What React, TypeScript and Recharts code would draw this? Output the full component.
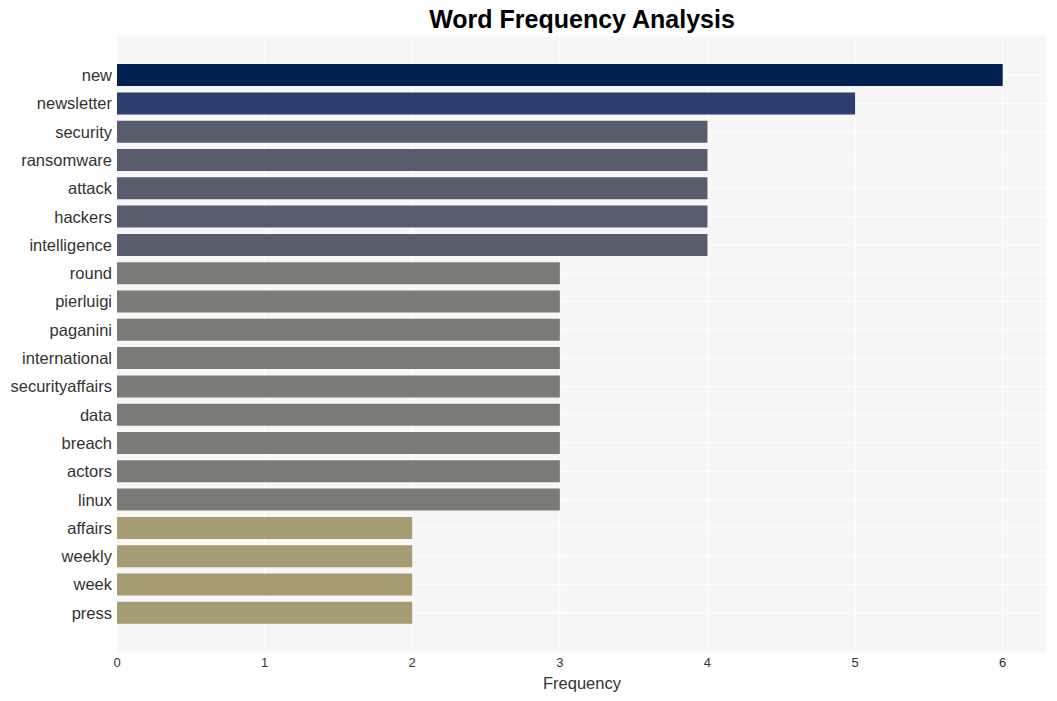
import { BarChart, Bar, XAxis, YAxis, CartesianGrid, Cell } from 'recharts';

// words and how often they appear
const words = [
  'new', 'newsletter', 'security', 'ransomware', 'attack', 'hackers', 'intelligence',
  'round', 'pierluigi', 'paganini', 'international', 'securityaffairs', 'data', 'breach',
  'actors', 'linux', 'affairs', 'weekly', 'week', 'press',
];
const counts = [6, 5, 4, 4, 4, 4, 4, 3, 3, 3, 3, 3, 3, 3, 3, 3, 2, 2, 2, 2];
const xTicks = [0, 1, 2, 3, 4, 5, 6];

// colour by frequency level
const levelColors: Record<number, string> = {
  6: '#002050',
  5: '#2c3f6f',
  4: '#585d6e',
  3: '#7b7a77',
  2: '#a59c74',
};

const chartData = words.map((word, i) => ({ word, count: counts[i] }));

const FONT = '"Liberation Sans", Arial, Helvetica, sans-serif';

export default function App() {
  return (
    <div style={{ position: 'absolute', left: 0, top: 0, width: 1057, height: 701, background: '#fff', fontFamily: FONT }}>
      <div
        style={{
          position: 'absolute',
          top: 5,
          left: 117,
          width: 930,
          textAlign: 'center',
          fontSize: 25,
          fontWeight: 'bold',
          color: '#000',
        }}
      >
        Word Frequency Analysis
      </div>
      <BarChart
        width={1057}
        height={701}
        data={chartData}
        layout="vertical"
        margin={{ top: 36, right: 10, bottom: 0, left: 0 }}
        barCategoryGap="11%"
      >
        <CartesianGrid fill="#f7f7f7" stroke="#ffffff" strokeWidth={1} />
        <XAxis
          type="number"
          domain={[0, 6.3]}
          ticks={xTicks}
          axisLine={false}
          tickLine={false}
          tickSize={0}
          tickMargin={6}
          height={49}
          tick={{ fill: '#333', fontSize: 13, fontFamily: FONT }}
          label={{ value: 'Frequency', position: 'insideBottom', offset: 12, fill: '#333', fontSize: 16.5, fontFamily: FONT }}
        />
        <YAxis
          type="category"
          dataKey="word"
          width={117}
          axisLine={false}
          tickLine={false}
          tickSize={0}
          tickMargin={5}
          padding={{ top: 25, bottom: 25 }}
          interval={0}
          tick={{ fill: '#333', fontSize: 16.5, fontFamily: FONT }}
        />
        <Bar dataKey="count" isAnimationActive={false}>
          {chartData.map((d) => (
            <Cell key={d.word} fill={levelColors[d.count]} />
          ))}
        </Bar>
      </BarChart>
    </div>
  );
}
